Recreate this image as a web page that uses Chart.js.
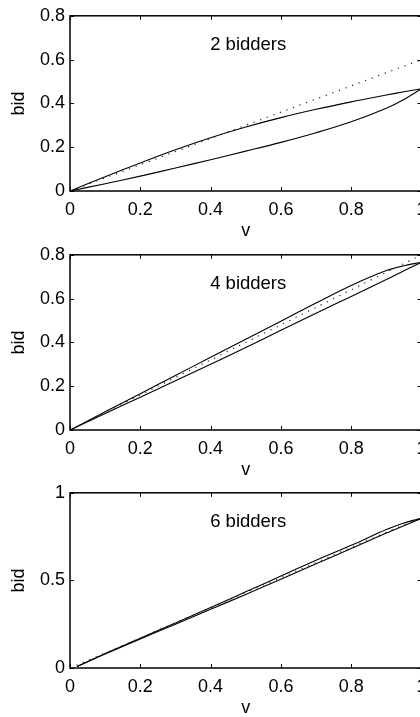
<!DOCTYPE html>
<html>
<head>
<meta charset="utf-8">
<script src="https://cdn.jsdelivr.net/npm/chart.js@4.4.0/dist/chart.umd.min.js"></script>
<style>
  html, body { margin: 0; padding: 0; background: #fff; overflow: hidden; width: 420px; height: 717px; }
  .panel { position: absolute; left: 0; width: 440px; height: 240px; }
</style>
</head>
<body>
<div class="panel" style="top:0px"><canvas id="c1" width="440" height="240"></canvas></div>
<div class="panel" style="top:239px"><canvas id="c2" width="440" height="240"></canvas></div>
<div class="panel" style="top:477px"><canvas id="c3" width="440" height="240"></canvas></div>
<script>
// ---- data ----
const vGrid  = [0, 0.1, 0.2, 0.3, 0.4, 0.5, 0.6, 0.7, 0.8, 0.9, 0.95, 1];
const vGrid6 = [0.02, 0.1, 0.2, 0.3, 0.4, 0.5, 0.6, 0.7, 0.8, 0.9, 0.95, 1];

const upper2 = [0, 0.065, 0.128, 0.188, 0.243, 0.292, 0.335, 0.373, 0.407, 0.438, 0.453, 0.467];
const lower2 = [0, 0.033, 0.068, 0.105, 0.143, 0.182, 0.222, 0.266, 0.316, 0.378, 0.418, 0.467];
const upper4 = [0, 0.083, 0.166, 0.249, 0.332, 0.414, 0.497, 0.580, 0.660, 0.728, 0.750, 0.766];
const lower4 = [0, 0.075, 0.150, 0.225, 0.300, 0.377, 0.455, 0.533, 0.610, 0.687, 0.727, 0.766];
const upper6 = [0.008, 0.083, 0.170, 0.257, 0.345, 0.435, 0.525, 0.615, 0.700, 0.790, 0.828, 0.854];
const lower6 = [0.008, 0.080, 0.166, 0.250, 0.335, 0.420, 0.507, 0.595, 0.682, 0.770, 0.812, 0.854];

const dottedV = [0, 1];
const dotted2 = [0, 0.6];
const dotted4 = [0, 0.8];
const dotted6 = [0, 0.86];

const xTicks = [0, 0.2, 0.4, 0.6, 0.8, 1];
const yTicks2 = [0, 0.2, 0.4, 0.6, 0.8];
const yTicks4 = [0, 0.2, 0.4, 0.6, 0.8];
const yTicks6 = [0, 0.5, 1];

const titles = ['2 bidders', '4 bidders', '6 bidders'];
const xLabel = 'v';
const yLabel = 'bid';

// ---- helpers ----
const FONT = '"Liberation Sans", Arial, Helvetica, sans-serif';
const pts = (xs, ys) => xs.map((x, i) => ({x: x, y: ys[i]}));

const framePlugin = {
  id: 'frame',
  afterDraw(chart) {
    const {ctx, chartArea: a, scales: {x, y}} = chart;
    ctx.save();
    ctx.strokeStyle = '#000';
    ctx.lineWidth = 1;
    const tl = 4;
    ctx.beginPath();
    x.ticks.forEach(t => {
      const px = Math.round(x.getPixelForValue(t.value)) + 0.5;
      ctx.moveTo(px, a.bottom); ctx.lineTo(px, a.bottom - tl);
      ctx.moveTo(px, a.top); ctx.lineTo(px, a.top + tl);
    });
    y.ticks.forEach(t => {
      const py = Math.round(y.getPixelForValue(t.value)) + 0.5;
      ctx.moveTo(a.left, py); ctx.lineTo(a.left + tl, py);
      ctx.moveTo(a.right, py); ctx.lineTo(a.right - tl, py);
    });
    ctx.stroke();
    ctx.lineWidth = 1.5;
    ctx.strokeRect(a.left, a.top, a.right - a.left, a.bottom - a.top);
    // annotation
    const t = chart.options.plugins.annot;
    ctx.fillStyle = '#000';
    ctx.font = '18.5px ' + FONT;
    ctx.textAlign = 'center';
    ctx.textBaseline = 'alphabetic';
    ctx.fillText(t.text, x.getPixelForValue(0.507), a.top + 34);
    ctx.restore();
  }
};

function makeChart(id, up, lo, vs, dot, yMax, yTicks, title) {
  new Chart(document.getElementById(id), {
    type: 'scatter',
    data: {
      datasets: [
        { data: pts(dottedV, dot), showLine: true, borderColor: '#222', borderWidth: 1.2,
          borderDash: [1.2, 5.8], pointRadius: 0, fill: false },
        { data: pts(vs, up), showLine: true, borderColor: '#000', borderWidth: 1.1,
          pointRadius: 0, tension: 0.35, fill: false },
        { data: pts(vs, lo), showLine: true, borderColor: '#000', borderWidth: 1.1,
          pointRadius: 0, tension: 0.35, fill: false }
      ]
    },
    options: {
      responsive: false,
      animation: false,
      devicePixelRatio: 1,
      layout: { padding: { top: 11, right: 18.5, left: 0, bottom: 0 } },
      plugins: { legend: { display: false }, tooltip: { enabled: false }, annot: { text: title } },
      scales: {
        x: {
          type: 'linear', min: 0, max: 1,
          afterBuildTicks: s => { s.ticks = xTicks.map(v => ({value: v})); },
          afterFit: s => { s.height = 49; },
          grid: { display: false, drawTicks: false },
          border: { display: false },
          ticks: { padding: 8, color: '#000', font: { family: FONT, size: 18 },
                   maxRotation: 0, autoSkip: false, callback: v => String(v) },
          title: { display: true, text: xLabel, color: '#000',
                   font: { family: FONT, size: 18, lineHeight: 1 }, padding: { top: 0, bottom: 0 } }
        },
        y: {
          type: 'linear', min: 0, max: yMax,
          afterBuildTicks: s => { s.ticks = yTicks.map(v => ({value: v})); },
          afterFit: s => { s.width = 70; },
          grid: { display: false, drawTicks: false },
          border: { display: false },
          ticks: { padding: 5, color: '#000', font: { family: FONT, size: 18 },
                   autoSkip: false, callback: v => String(v) },
          title: { display: true, text: yLabel, color: '#000',
                   font: { family: FONT, size: 18, lineHeight: 1 }, padding: { top: 10, bottom: 0 } }
        }
      }
    },
    plugins: [framePlugin]
  });
}

makeChart('c1', upper2, lower2, vGrid, dotted2, 0.8, yTicks2, titles[0]);
makeChart('c2', upper4, lower4, vGrid, dotted4, 0.8, yTicks4, titles[1]);
makeChart('c3', upper6, lower6, vGrid6, dotted6, 1, yTicks6, titles[2]);
</script>
</body>
</html>
